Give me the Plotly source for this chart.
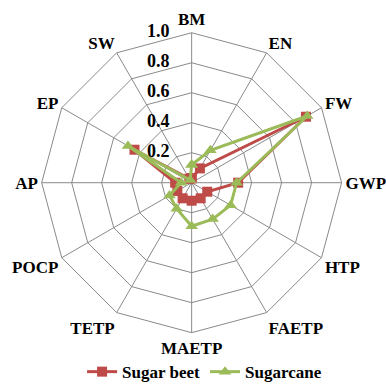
import plotly.graph_objects as go

categories = ["BM", "EN", "FW", "GWP", "HTP", "FAETP", "MAETP", "TETP", "POCP", "AP", "EP", "SW"]
sugar_beet = [0.03, 0.11, 0.88, 0.31, 0.12, 0.12, 0.12, 0.12, 0.11, 0.11, 0.44, 0.03]
sugarcane = [0.12, 0.25, 0.89, 0.30, 0.30, 0.28, 0.29, 0.20, 0.17, 0.07, 0.49, 0.02]
radial_ticks = [0.0, 0.2, 0.4, 0.6, 0.8, 1.0]

FONT = "Liberation Serif"


def closed(vals):
    return vals + vals[:1]


def serif(size=17):
    return dict(family=FONT, size=size, color="black")


def tick_label_trace(values, clip):
    # radial tick labels, set to the left of the BM spoke
    return go.Scatterpolar(
        r=values, theta=[categories[0]] * len(values),
        mode="markers+text",
        marker=dict(size=34, color="rgba(0,0,0,0)"),
        text=[f"<b>{v:.1f}</b>" for v in values],
        textposition="middle left", textfont=serif(18),
        showlegend=False, hoverinfo="skip", cliponaxis=clip,
    )


fig = go.Figure()
fig.add_trace(go.Scatterpolar(
    r=closed(sugar_beet), theta=closed(categories), name="<b>Sugar beet</b>",
    mode="lines+markers",
    line=dict(color="#BE4B48", width=3),
    marker=dict(symbol="square", size=10, color="#BE4B48"),
))
fig.add_trace(go.Scatterpolar(
    r=closed(sugarcane), theta=closed(categories), name="<b>Sugarcane</b>",
    mode="lines+markers",
    line=dict(color="#9BBB59", width=3),
    marker=dict(symbol="triangle-up", size=11, color="#9BBB59"),
))
# the centre label sits well inside the grid, so it can stay clipped
fig.add_trace(tick_label_trace(radial_ticks[:1], True))
fig.add_trace(tick_label_trace(radial_ticks[1:], False))

fig.update_layout(
    width=386, height=384,
    margin=dict(l=0, r=0, t=0, b=0, autoexpand=False),
    paper_bgcolor="white",
    font=serif(),
    polar=dict(
        domain=dict(x=[0.108, 0.885], y=[0.1336, 0.9148]),
        bgcolor="white",
        gridshape="linear",
        angularaxis=dict(
            direction="clockwise", rotation=90,
            categoryorder="array", categoryarray=categories,
            tickvals=categories,
            ticktext=[f"<b>{c}</b>" for c in categories],
            showline=True, linecolor="#8a8a8a", linewidth=1,
            gridcolor="#8a8a8a", gridwidth=1,
            ticks="", tickfont=serif(17),
        ),
        radialaxis=dict(
            range=[-1e-4, 1], tickvals=radial_ticks[1:],
            showticklabels=False,
            showline=False, gridcolor="#8a8a8a", gridwidth=1,
            ticks="",
        ),
    ),
    legend=dict(
        orientation="h", x=0.53, xanchor="center", y=0.031, yanchor="middle",
        font=serif(17),
        itemwidth=30, tracegroupgap=0,
    ),
)

fig.write_html("out.html")
